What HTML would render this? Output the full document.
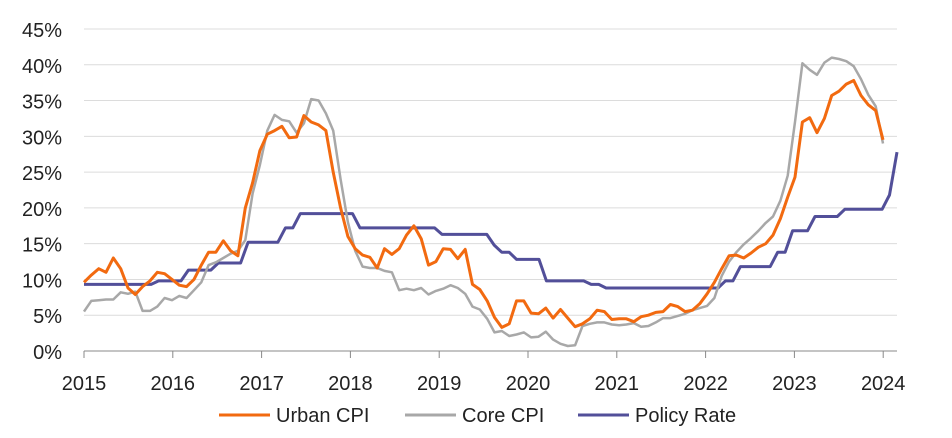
<!DOCTYPE html>
<html><head><meta charset="utf-8"><style>
body{margin:0;background:#fff;}
svg{display:block;font-family:"Liberation Sans",sans-serif;}
</style></head><body>
<svg id="s" width="952" height="438" xmlns="http://www.w3.org/2000/svg"></svg>
<script>
var s=document.getElementById('s');
var h='';
var x0=84,y0=351,ky=7.156;
function Y(v){return y0-v*ky}
for(var g=5;g<=45;g+=5){h+='<line x1="84" x2="897" y1="'+Y(g)+'" y2="'+Y(g)+'" stroke="#dcdcdc" stroke-width="1"/>';}
for(var g=0;g<=45;g+=5){h+='<text x="62" y="'+(Y(g)+8)+'" font-size="20" text-anchor="end" fill="#222">'+g+'%</text>';}
h+='<line x1="84" x2="897" y1="351" y2="351" stroke="#888" stroke-width="1"/>';
for(var yr=0;yr<=9;yr++){var xx=x0+yr*88.8;h+='<line x1="'+xx+'" x2="'+xx+'" y1="351" y2="358" stroke="#888"/>';h+='<text x="'+xx+'" y="390" font-size="20" text-anchor="middle" fill="#222">'+(2015+yr)+'</text>';}
var urban=[9.6,10.6,11.5,11.0,13.0,11.5,8.8,7.9,9.0,9.8,11.0,10.8,
10.0,9.2,9.0,10.0,12.0,13.8,13.8,15.4,14.0,13.3,20.0,23.5,
28.0,30.3,30.8,31.4,29.8,29.9,32.9,32.0,31.6,30.8,25,20,
16,14.3,13.4,13.1,11.6,14.3,13.5,14.3,16.2,17.5,15.7,12.0,
12.5,14.3,14.2,12.9,14.2,9.3,8.6,7.0,4.7,3.3,3.8,7.0,
7.0,5.3,5.2,6.0,4.6,5.8,4.6,3.4,3.8,4.5,5.7,5.5,
4.4,4.5,4.5,4.1,4.8,5.0,5.4,5.5,6.5,6.2,5.5,5.7,
6.6,8.0,9.6,11.5,13.3,13.4,13.0,13.7,14.5,15.0,16.2,18.5,
21.5,24.3,32.0,32.6,30.5,32.5,35.7,36.3,37.3,37.8,35.7,34.4,33.6,29.5];
var core=[5.5,7.0,7.1,7.2,7.2,8.2,8.0,8.3,5.6,5.6,6.2,7.4,
7.1,7.7,7.4,8.5,9.6,12.0,12.4,13.0,13.6,14.0,15.5,22,
26,30.8,33.0,32.3,32.1,30.5,31.8,35.2,35.0,33.2,30.8,24,
18,14,11.8,11.6,11.6,11.2,11.0,8.5,8.7,8.5,8.8,7.9,
8.4,8.7,9.2,8.8,8.0,6.2,5.8,4.5,2.6,2.8,2.1,2.3,
2.6,1.9,2.0,2.7,1.6,1.0,0.7,0.8,3.5,3.8,4.0,4.0,
3.7,3.6,3.7,3.9,3.4,3.5,4.0,4.6,4.6,4.9,5.2,5.7,
6.0,6.3,7.4,10.5,12.5,13.8,14.9,15.8,16.8,17.9,18.8,21,
24.5,32,40.2,39.3,38.6,40.3,41.0,40.8,40.5,39.8,38.0,35.8,34.2,29.0];
var steps=[[0,9.3],[10,9.8],[14,11.3],[18,12.3],[22,15.2],[27,17.2],[29,19.2],[37,17.2],[48,16.3],[55,14.8],[56,13.8],[58,12.8],[62,9.8],[68,9.3],[70,8.8],[86,9.8],[88,11.8],[93,13.8],[95,16.8],[98,18.8],[102,19.8],[108,21.8],[109,27.8]];
var pol=[];var v=9.3,k=0;
for(var i=0;i<=109;i++){while(k<steps.length&&steps[k][0]<=i){v=steps[k][1];k++;}pol.push(v);}
function line(a,c,w,xEnd){var n=a.length-1;var p=a.map(function(v,i){return (x0+i*(xEnd-x0)/n).toFixed(1)+','+Y(v).toFixed(1)}).join(' ');return '<polyline points="'+p+'" fill="none" stroke="'+c+'" stroke-width="'+w+'" stroke-linejoin="round"/>';}
h+=line(pol,'#524f99',3,897);
h+=line(core,'#a8a8a8',2.5,883);
h+=line(urban,'#f26a10',3,883);
h+='<line x1="219" x2="270" y1="415" y2="415" stroke="#f26a10" stroke-width="3"/><text x="276" y="422" font-size="20" fill="#222">Urban CPI</text>';
h+='<line x1="405" x2="456" y1="415" y2="415" stroke="#a8a8a8" stroke-width="3"/><text x="462" y="422" font-size="20" fill="#222">Core CPI</text>';
h+='<line x1="578" x2="629" y1="415" y2="415" stroke="#524f99" stroke-width="3"/><text x="635" y="422" font-size="20" fill="#222">Policy Rate</text>';
s.innerHTML=h;
</script>
</body></html>
